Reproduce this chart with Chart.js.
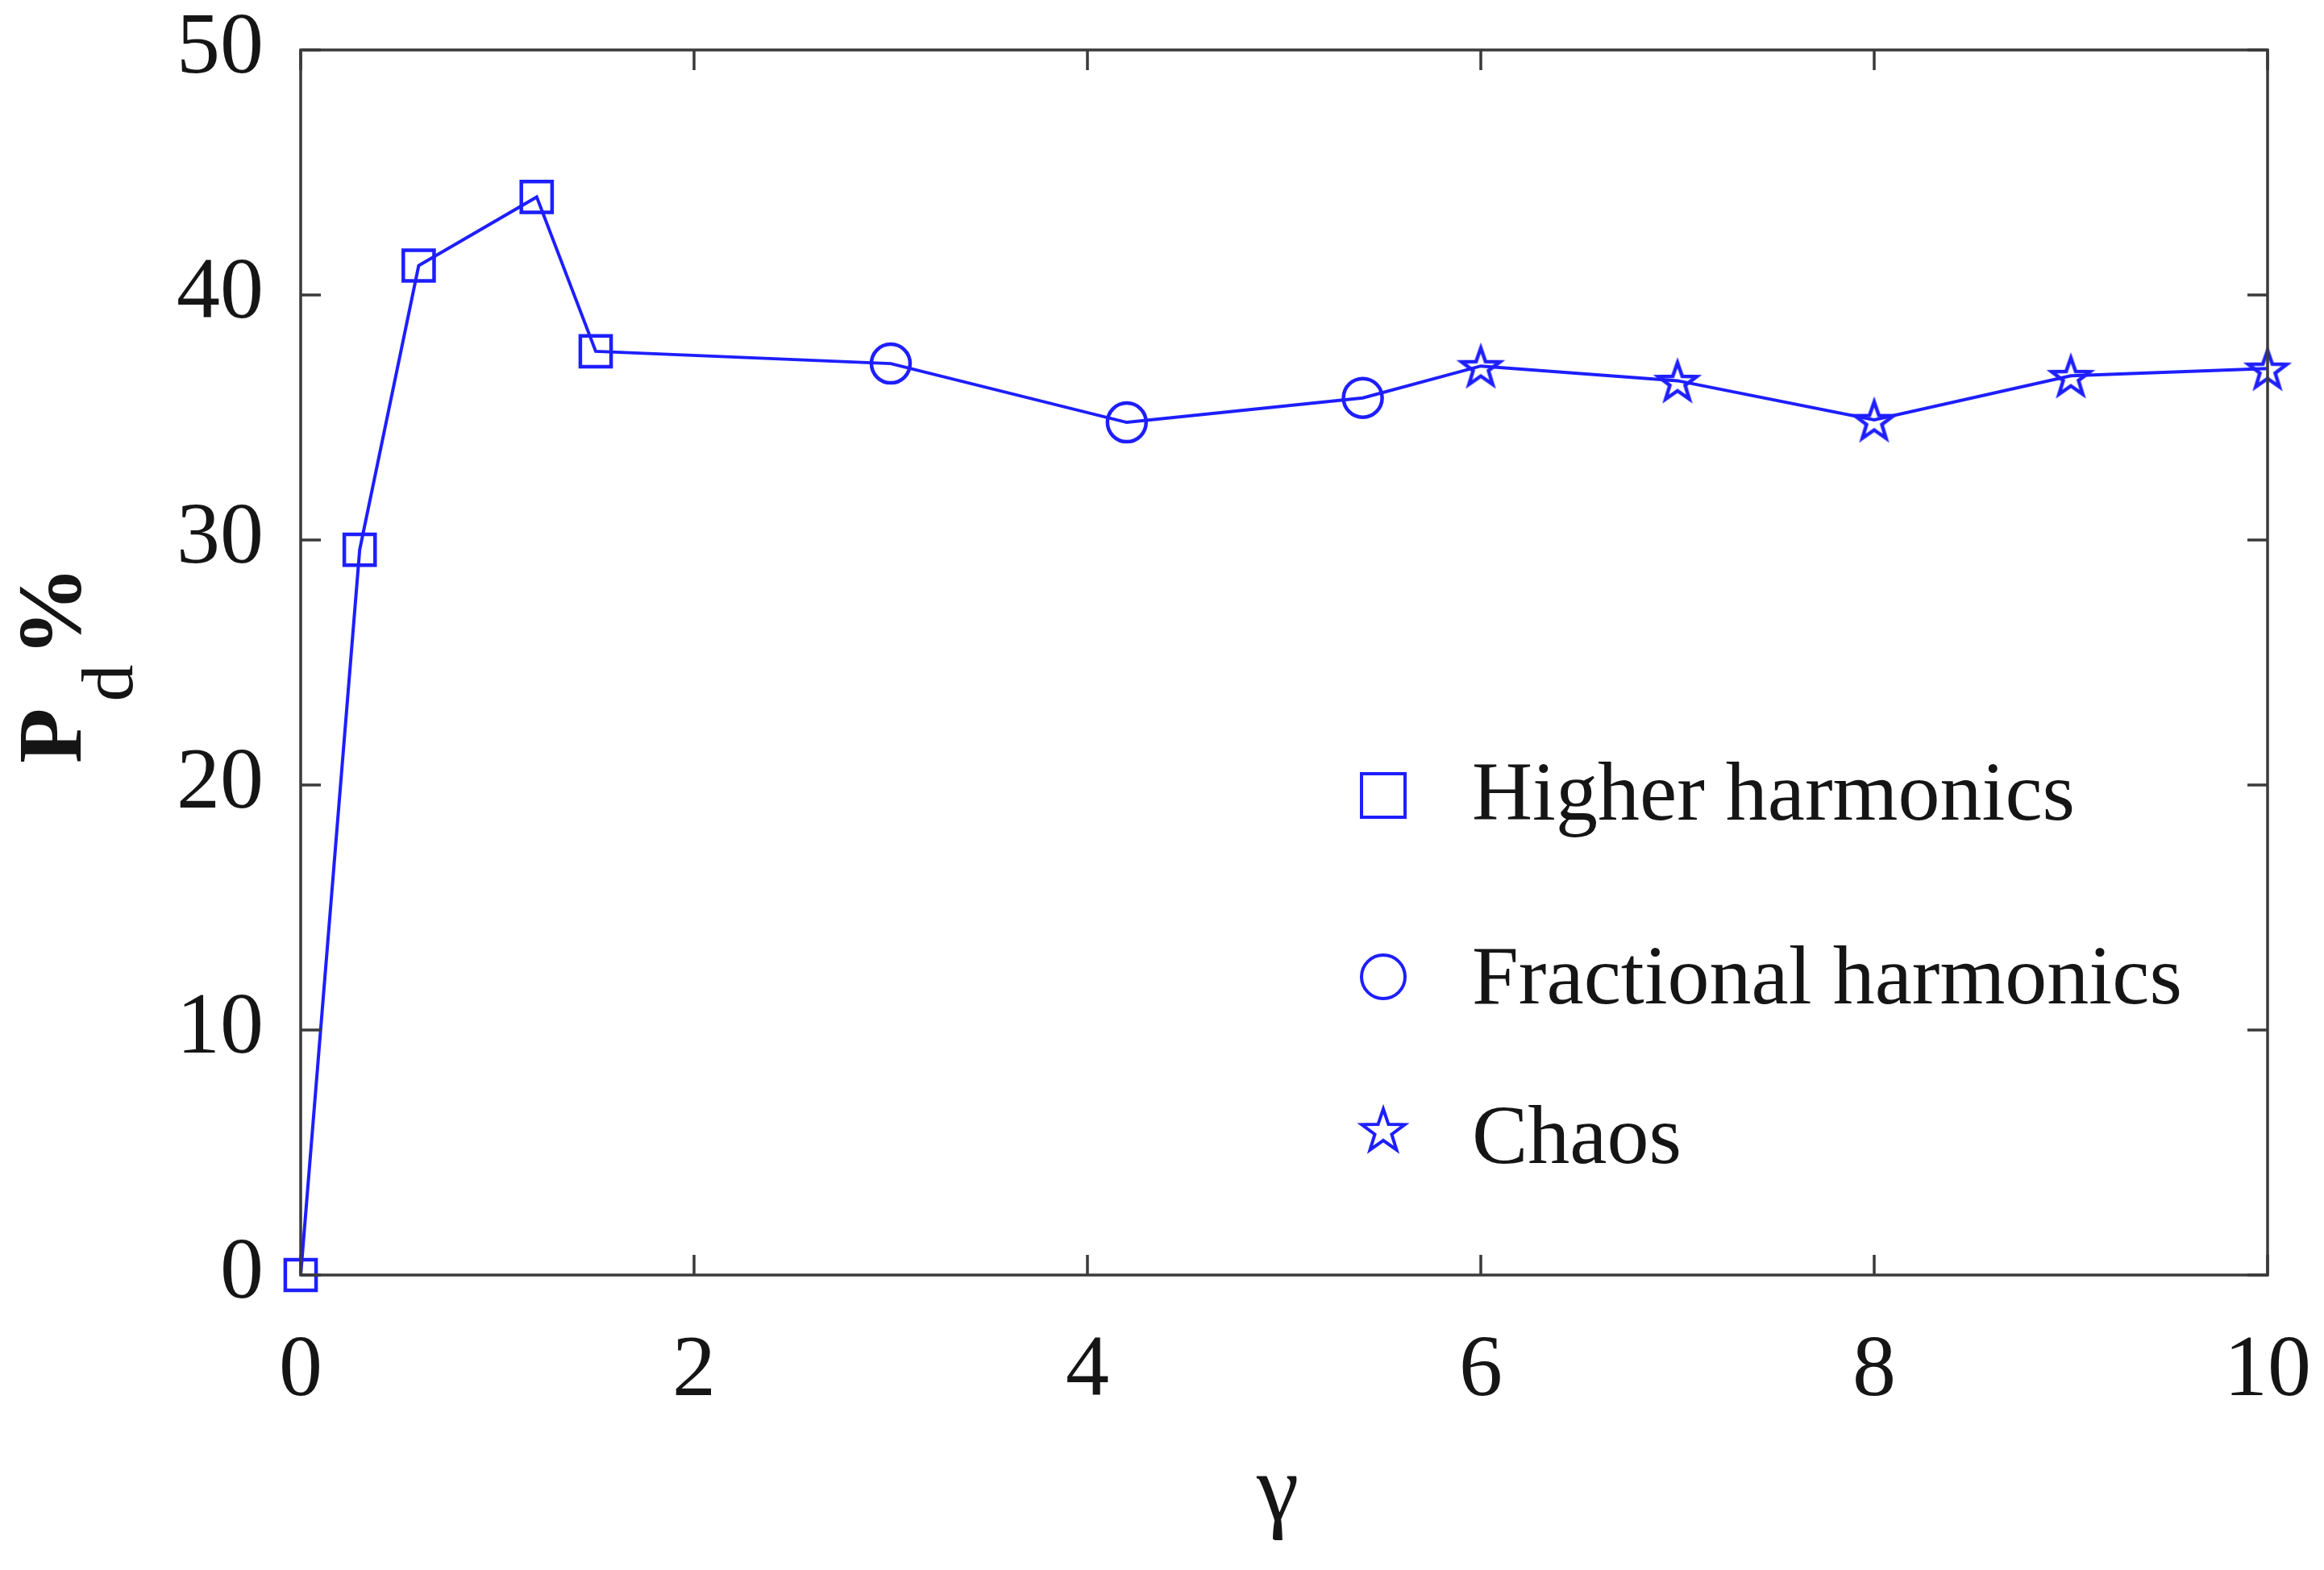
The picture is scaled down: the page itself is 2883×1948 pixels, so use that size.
<!DOCTYPE html>
<html><head><meta charset="utf-8">
<script src="https://cdn.jsdelivr.net/npm/chart.js@4.4.1/dist/chart.umd.min.js"></script>
<style>html,body{margin:0;padding:0;background:#fff}canvas{display:block}</style>
</head><body>
<canvas id="c" width="2883" height="1948"></canvas>
<script>
// ---- data ----
const gamma = [0, 0.3, 0.6, 1.2, 1.5, 3.0, 4.2, 5.4, 6, 7, 8, 9, 10];
const pd    = [0, 29.6, 41.2, 44.0, 37.7, 37.2, 34.8, 35.8, 37.1, 36.5, 34.9, 36.7, 37.0];
const regime = [0, 0, 0, 0, 0, 1, 1, 1, 2, 2, 2, 2, 2]; // index into legendLabels
const legendLabels = ['Higher harmonics', 'Fractional harmonics', 'Chaos'];
const xTicks = [0, 2, 4, 6, 8, 10];
const yTicks = [0, 10, 20, 30, 40, 50];
const xTitle = 'γ';

// ---- styles ----
const BLUE = '#1e1eff';
const TXT = '#151515';
const AX = '#3a3a3a';
const SERIF = '"Liberation Serif", "Times New Roman", serif';

function starPath(g, cx, cy, R, r) {
  g.beginPath();
  for (let i = 0; i < 10; i++) {
    const a = -Math.PI / 2 + i * Math.PI / 5;
    const rad = i % 2 === 0 ? R : r;
    const x = cx + rad * Math.cos(a), y = cy + rad * Math.sin(a);
    if (i === 0) g.moveTo(x, y); else g.lineTo(x, y);
  }
  g.closePath();
}
function starCanvas(R, lw) {
  const s = Math.ceil(2 * R + 2 * lw + 6);
  const c = document.createElement('canvas'); c.width = s; c.height = s;
  const g = c.getContext('2d');
  g.strokeStyle = BLUE; g.lineWidth = lw; g.lineJoin = 'miter';
  starPath(g, s / 2, s / 2 + R * 0.1, R, R * 0.4);
  g.stroke();
  return c;
}
const starImg = starCanvas(25, 4.5);
const styles = ['rect', 'circle', starImg];
const radii = [27, 24, 24];

const points = gamma.map((x, i) => ({x: x, y: pd[i]}));

const decor = {
  id: 'decor',
  afterDraw(chart) {
    const ctx = chart.ctx, a = chart.chartArea;
    const xs = chart.scales.x, ys = chart.scales.y;
    ctx.save();
    ctx.strokeStyle = AX; ctx.lineWidth = 3.5;
    ctx.strokeRect(a.left, a.top, a.right - a.left, a.bottom - a.top);
    const tl = 25;
    ctx.beginPath();
    xTicks.forEach(v => {
      const px = xs.getPixelForValue(v);
      ctx.moveTo(px, a.bottom); ctx.lineTo(px, a.bottom - tl);
      ctx.moveTo(px, a.top); ctx.lineTo(px, a.top + tl);
    });
    yTicks.forEach(v => {
      const py = ys.getPixelForValue(v);
      ctx.moveTo(a.left, py); ctx.lineTo(a.left + tl, py);
      ctx.moveTo(a.right, py); ctx.lineTo(a.right - tl, py);
    });
    ctx.stroke();

    // y title: P_d %
    ctx.fillStyle = TXT;
    ctx.save();
    ctx.translate(100, 947);
    ctx.rotate(-Math.PI / 2);
    ctx.textAlign = 'left'; ctx.textBaseline = 'alphabetic';
    ctx.font = 'bold 112px ' + SERIF;
    ctx.fillText('P', 0, 0);
    let w = ctx.measureText('P').width + 8;
    ctx.font = '92px ' + SERIF;
    ctx.fillText('d', w, 64);
    w += ctx.measureText('d').width + 10;
    ctx.font = 'bold 112px ' + SERIF;
    ctx.fillText('%', w, 0);
    ctx.restore();

    // x title
    ctx.font = '118px ' + SERIF;
    ctx.textAlign = 'center'; ctx.textBaseline = 'alphabetic';
    ctx.fillText(xTitle, (a.left + a.right) / 2 - 8, 1886);

    // legend
    const mx = 1716, tx = 1826;
    const rowsY = [987, 1212, 1401];
    const baseY = [1017, 1245, 1443];
    ctx.strokeStyle = BLUE; ctx.lineWidth = 4;
    ctx.strokeRect(mx - 27, rowsY[0] - 27, 54, 54);
    ctx.beginPath(); ctx.arc(mx, rowsY[1], 27, 0, Math.PI * 2); ctx.stroke();
    starPath(ctx, mx, rowsY[2] + 3, 28, 11); ctx.stroke();
    ctx.fillStyle = TXT;
    ctx.font = '104px ' + SERIF;
    ctx.textAlign = 'left';
    legendLabels.forEach((t, i) => ctx.fillText(t, tx, baseY[i]));
    ctx.restore();
  }
};

new Chart(document.getElementById('c'), {
  type: 'scatter',
  data: {
    datasets: [{
      data: points,
      showLine: true,
      borderColor: BLUE,
      borderWidth: 4,
      pointStyle: regime.map(k => styles[k]),
      pointRadius: regime.map(k => radii[k]),
      pointBorderColor: BLUE,
      pointBorderWidth: 4.5,
      pointBackgroundColor: 'rgba(0,0,0,0)',
      clip: false,
      tension: 0
    }]
  },
  options: {
    responsive: false,
    animation: false,
    devicePixelRatio: 1,
    layout: {padding: {top: 62, right: 70, left: 0, bottom: 0}},
    plugins: {legend: {display: false}, tooltip: {enabled: false}},
    scales: {
      x: {
        type: 'linear', min: 0, max: 10,
        afterBuildTicks: s => { s.ticks = xTicks.map(v => ({value: v})); },
        afterFit: s => { s.height = 366; s.paddingLeft = 0; s.paddingRight = 0; },
        grid: {display: false, drawTicks: false},
        border: {display: false},
        ticks: {color: TXT, padding: 67, font: {family: SERIF, size: 108, lineHeight: 1}}
      },
      y: {
        type: 'linear', min: 0, max: 50,
        afterBuildTicks: s => { s.ticks = yTicks.map(v => ({value: v})); },
        afterFit: s => { s.width = 373; s.paddingTop = 0; s.paddingBottom = 0; },
        grid: {display: false, drawTicks: false},
        border: {display: false},
        ticks: {color: TXT, padding: 46, font: {family: SERIF, size: 108, lineHeight: 1}}
      }
    }
  },
  plugins: [decor]
});
</script>
</body></html>
